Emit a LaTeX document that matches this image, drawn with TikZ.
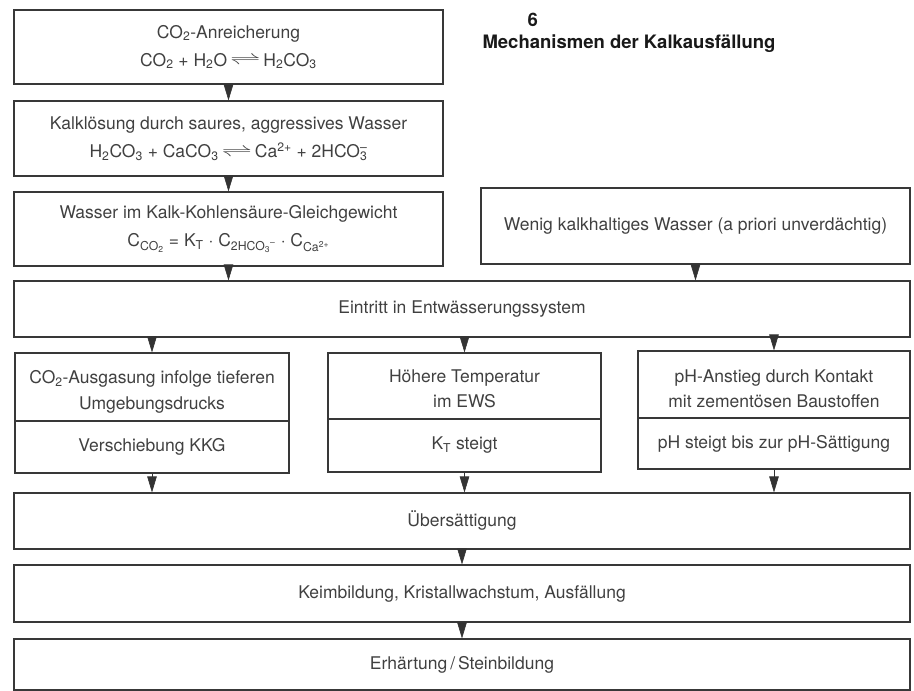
\documentclass[tikz,border=0pt]{standalone}
\usepackage{fontspec}
\setmainfont{TeX Gyre Heros}
\usetikzlibrary{arrows.meta}
\newcommand{\sbx}[1]{\textsubscript{#1}}
\newcommand{\spx}[1]{\textsuperscript{#1}}
\newcommand{\eqarr}{\,\raisebox{0.1ex}{\scalebox{1.8}[1]{$\rightleftharpoons$}}\,}
\begin{document}
\begin{tikzpicture}[x=1pt,y=-1pt,
  box/.style={draw=black!78, line width=1.1pt, inner sep=0pt, align=center,
    text=black!75, font=\fontsize{17.5}{28}\selectfont},
  frame/.style={draw=black!78, line width=1.1pt, inner sep=0pt},
  txt/.style={inner sep=0pt, align=center, text=black!75, font=\fontsize{17.5}{25.5}\selectfont},
  arr/.style={draw=black!80, line width=0.6pt, -{Triangle[width=9.5pt,length=16pt]}},
  ttl/.style={anchor=west, text=black!90, font=\fontsize{18.5}{22}\selectfont\bfseries}]
\useasboundingbox (0,0) rectangle (914,691);
% titles
\node[ttl] (num) at (524,20) {6};
\node[ttl] (title) at (479,44) {Mechanismen der Kalkausfällung};
% left column
\node[box, minimum width=429pt, minimum height=74pt] (b1) at (228.5,47)
  {CO\sbx{2}-Anreicherung\\CO\sbx{2} + H\sbx{2}O\eqarr H\sbx{2}CO\sbx{3}};
\node[box, minimum width=429pt, minimum height=75pt] (b2) at (228.5,138.5)
  {Kalklösung durch saures, aggressives Wasser\\H\sbx{2}CO\sbx{3} + CaCO\sbx{3}\eqarr Ca\spx{2+} + 2HCO\rlap{\spx{–}}\sbx{3}};
\node[box, minimum width=429pt, minimum height=74pt] (b3) at (228.5,229)
  {Wasser im Kalk-Kohlensäure-Gleichgewicht\\C\sbx{CO\sbx{2}} = K\sbx{T} · C\sbx{2HCO\sbx{3}\spx{–}} · C\sbx{Ca\spx{2+}}};
\node[box, minimum width=429pt, minimum height=76pt] (bw) at (695.5,226)
  {Wenig kalkhaltiges Wasser (a priori unverdächtig)};
\node[box, minimum width=896pt, minimum height=56pt] (be) at (462,309)
  {Eintritt in Entwässerungssystem};
% three columns
\node[frame, minimum width=274pt, minimum height=68pt] (at) at (152,387) {};
\node[txt] (att) at ([yshift=-5pt]at.center) {CO\sbx{2}-Ausgasung infolge tieferen\\Umgebungsdrucks};
\node[box, minimum width=274pt, minimum height=52pt] (ab) at (152,447)
  {Verschiebung KKG};
\node[frame, minimum width=273pt, minimum height=66pt] (bt) at (464.5,386) {};
\node[txt] (btt) at ([yshift=-3pt]bt.center) {Höhere Temperatur\\im EWS};
\node[box, minimum width=273pt, minimum height=53pt] (bb) at (464.5,445.5)
  {K\sbx{T} steigt};
\node[frame, minimum width=272pt, minimum height=67pt] (ct) at (774,384.5) {};
\node[txt] (ctt) at ([yshift=-4pt]ct.center) {pH-Anstieg durch Kontakt\\mit zementösen Baustoffen};
\node[box, minimum width=272pt, minimum height=51pt] (cb) at (774,443.5)
  {pH steigt bis zur pH-Sättigung};
% bottom
\node[box, minimum width=896pt, minimum height=56pt] (bu) at (462,521)
  {Übersättigung};
\node[box, minimum width=896pt, minimum height=57pt] (bk) at (462,593.5)
  {Keimbildung, Kristallwachstum, Ausfällung};
\node[box, minimum width=896pt, minimum height=51pt] (bh) at (462,664.5)
  {Erhärtung\,/\,Steinbildung};
% connectors
\draw[arr] (b1.south) -- (b2.north);
\draw[arr] (b2.south) -- (b3.north);
\draw[arr] (b3.south) -- (b3.south |- be.north);
\draw[arr] (bw.south) -- (bw.south |- be.north);
\draw[arr] (be.south -| at.north) -- (at.north);
\draw[arr] (be.south -| bt.north) -- (bt.north);
\draw[arr] (be.south -| ct.north) -- (ct.north);
\draw[arr] (ab.south) -- (ab.south |- bu.north);
\draw[arr] (bb.south) -- (bb.south |- bu.north);
\draw[arr] (cb.south) -- (cb.south |- bu.north);
\draw[arr] (bu.south) -- (bk.north);
\draw[arr] (bk.south) -- (bh.north);
\end{tikzpicture}
\end{document}
